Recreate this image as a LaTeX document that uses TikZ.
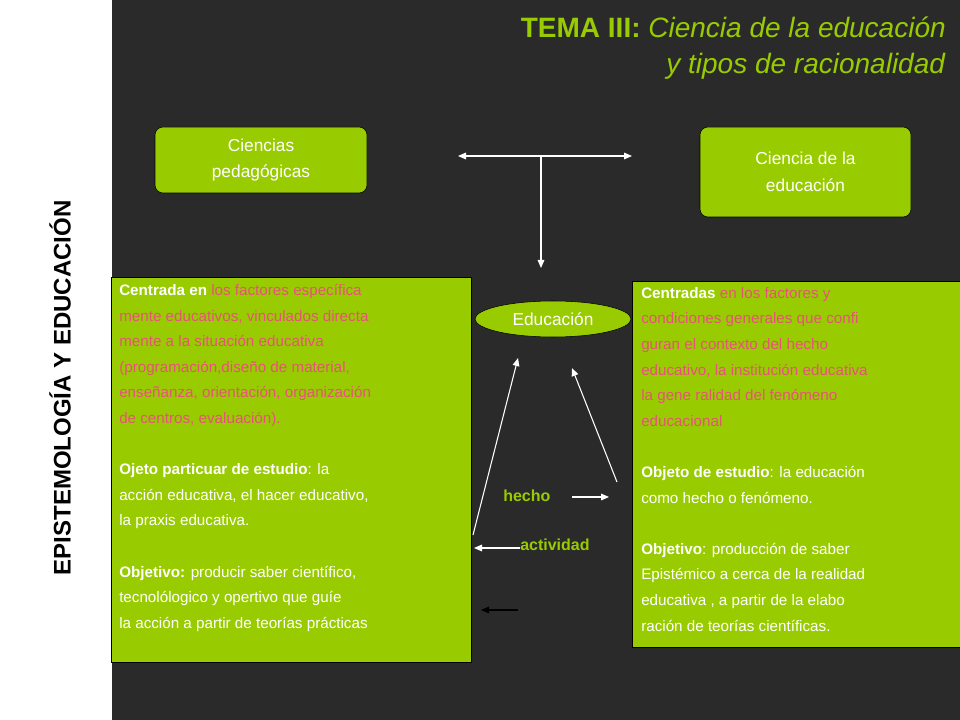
\documentclass[tikz,border=0pt]{standalone}
\usepackage{fontspec}
\setmainfont{Liberation Sans}
\usetikzlibrary{shapes.geometric,arrows.meta}
\definecolor{bg}{RGB}{42,42,42}
\definecolor{gr}{RGB}{153,204,0}
\definecolor{pk}{RGB}{232,82,122}
\begin{document}
\begin{tikzpicture}[x=0.75pt,y=-0.75pt,
 gbox/.style={draw=black,fill=gr,rounded corners=6pt,text=white,align=center,font=\fontsize{13}{20}\selectfont},
 bigbox/.style={draw=black,fill=gr},
 btext/.style={anchor=north west,align=left,inner sep=0pt,text=white,font=\fontsize{11.4}{19.2}\selectfont},
 arr/.style={white,-{Triangle[length=6pt,width=5pt]},line width=0.8pt},
 lab/.style={text=gr,font=\bfseries\fontsize{12}{14}\selectfont}]
\useasboundingbox (0,0) rectangle (960,720);
\fill[white] (0,0) rectangle (112,720);
\fill[bg] (112,0) rectangle (960,720);
\node[rotate=90,font=\bfseries\fontsize{18}{20}\selectfont,text=black] (side) at (60,388) {EPISTEMOLOGÍA Y EDUCACIÓN};
\node[anchor=north east,align=right,text=gr,font=\fontsize{21}{27}\selectfont,inner sep=0pt] (title) at (946,17) {\textbf{TEMA III:} \textit{Ciencia de la educación}\\ \textit{y tipos de racionalidad}};
\node[gbox,minimum width=212*0.75pt,minimum height=66*0.75pt] (cp) at (261,160) {Ciencias\\pedagógicas};
\node[gbox,minimum width=211*0.75pt,minimum height=90*0.75pt] (ce) at (805.5,172) {Ciencia de la\\ educación};
\draw[bigbox] (111,277) rectangle (471,662);
\draw[bigbox] (632,281) rectangle (962,647);
\node[btext] (lt) at (119,284) {\textbf{Centrada en} \textcolor{pk}{los factores específica}\\
\textcolor{pk}{mente educativos, vinculados directa}\\
\textcolor{pk}{mente a la situación educativa}\\
\textcolor{pk}{(programación,diseño de material,}\\
\textcolor{pk}{enseñanza, orientación, organización}\\
\textcolor{pk}{de centros, evaluación).}\\[19.2pt]
\textbf{Ojeto particuar de estudio}: la\\
acción educativa, el hacer educativo,\\
la praxis educativa.\\[19.2pt]
\textbf{Objetivo:} producir saber científico,\\
tecnolólogico y opertivo que guíe\\
la acción a partir de teorías prácticas};
\node[btext] (rt) at (641,287) {\textbf{Centradas} \textcolor{pk}{en los factores y}\\
\textcolor{pk}{condiciones generales que confi}\\
\textcolor{pk}{guran el contexto del hecho}\\
\textcolor{pk}{educativo, la institución educativa}\\
\textcolor{pk}{la gene ralidad del fenómeno}\\
\textcolor{pk}{educacional}\\[19.2pt]
\textbf{Objeto de estudio}: la educación\\
como hecho o fenómeno.\\[19.2pt]
\textbf{Objetivo}: producción de saber\\
Epistémico a cerca de la realidad\\
educativa , a partir de la elabo\\
ración de  teorías científicas.};
\node[ellipse,draw=black,fill=gr,text=white,minimum width=156*0.75pt,minimum height=36*0.75pt,inner sep=0pt,font=\fontsize{13}{15}\selectfont] (edu) at (553,319) {Educación};
\coordinate (hl) at (458,156); \coordinate (hr) at (632,156);
\coordinate (hm) at (541,156); \coordinate (vb) at (541,268);
\draw[white,line width=0.8pt,{Triangle[length=6pt,width=5pt]}-{Triangle[length=6pt,width=5pt]}] (hl) -- (hr);
\draw[arr] (hm) -- (vb);
\coordinate (a1s) at (473,535); \coordinate (a1e) at (518,358);
\coordinate (a2s) at (617,482); \coordinate (a2e) at (572,368);
\draw[arr] (a1s) -- (a1e);
\draw[arr] (a2s) -- (a2e);
\node[lab,anchor=west,inner sep=0pt] (hecho) at (503,496) {hecho};
\coordinate (he) at (609,497);
\draw[arr] (572,497) -- (he);
\node[lab,anchor=west,inner sep=0pt] (act) at (520,545) {actividad};
\coordinate (ae) at (474,548);
\draw[arr] (act.west) ++(0,3) -- (ae);
\coordinate (bs) at (518,610); \coordinate (be) at (481,610);
\draw[black,line width=0.8pt,-{Triangle[length=6pt,width=5pt]}] (bs) -- (be);
\end{tikzpicture}
\end{document}
